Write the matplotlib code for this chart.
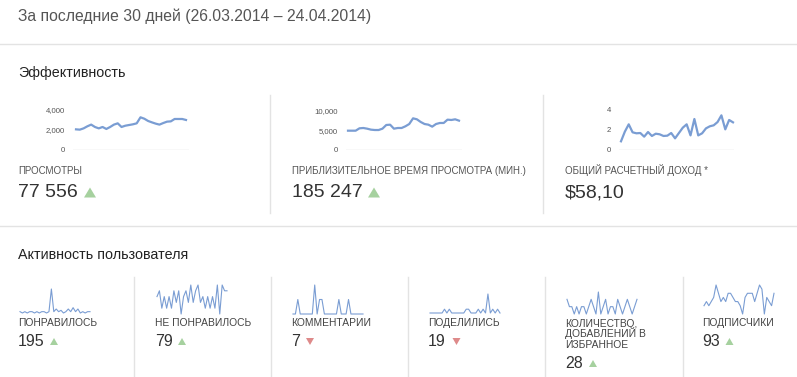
import matplotlib
matplotlib.use("Agg")
import matplotlib.pyplot as plt
from matplotlib.patches import Polygon

W, H = 797, 377
plt.rcParams['font.family'] = ['Liberation Sans', 'DejaVu Sans']

# --- data (30 days) ---
views = [2040, 2010, 2140, 2350, 2520, 2280, 2140, 2280, 2080, 2280,
         2520, 2650, 2280, 2410, 2480, 2550, 2650, 3260, 3120, 2890,
         2750, 2620, 2520, 2680, 2820, 2850, 3090, 3090, 3090, 2990]
watch_time = [4890, 4890, 4890, 5490, 5570, 5400, 5150, 5060, 5060, 5400,
              6330, 6410, 5400, 5570, 5570, 6000, 6580, 8020, 7770, 7090,
              6580, 6410, 5910, 6580, 6840, 6840, 7680, 7600, 7770, 7430]
revenue = [0.83, 1.81, 2.55, 1.74, 1.64, 1.67, 1.30, 1.77, 1.37, 1.60,
           1.54, 1.37, 1.40, 1.67, 1.13, 1.67, 2.21, 2.55, 1.43, 3.09,
           1.43, 1.64, 2.14, 2.35, 2.45, 2.78, 3.46, 2.04, 2.99, 2.75]
likes = [5, 4, 5, 4, 5, 5, 4, 5, 4, 5, 5, 4, 5, 22, 5, 7, 5, 6, 4, 5,
         7, 5, 8, 5, 7, 4, 5, 4, 5, 5]
dislikes = [3, 4, 1, 3, 1, 3, 1, 4, 2, 4, 0, 3, 4, 2, 5, 2, 4, 5, 2, 3,
            1, 3, 1, 3, 1, 5, 0, 5, 4, 4]
comments = [0, 0, 1, 0, 0, 0, 0, 0, 0, 2, 0, 1, 1, 0, 0, 0, 0, 0, 0, 1,
            0, 0, 0, 1, 0, 0, 0, 0, 0, 0]
shares = [0, 0, 0, 0, 0, 0, 1, 0, 1, 0, 0, 0, 0, 0, 0, 1, 1, 0, 0, 0,
          1, 0, 1, 0, 5, 0, 1, 0, 1, 0]
favorites = [2, 1, 1, 0, 1, 0, 1, 1, 0, 1, 2, 1, 0, 3, 0, 1, 2, 0, 1, 1,
             0, 2, 1, 0, 1, 2, 1, 0, 1, 2]
subscribers = [2, 3, 2, 3, 4, 7, 5, 3, 4, 3, 5, 5, 4, 3, 3, 2, 0, 4, 5, 5,
               5, 3, 5, 7, 6, 0, 4, 3, 2, 5]

top_labels = ["ПРОСМОТРЫ", "ПРИБЛИЗИТЕЛЬНОЕ ВРЕМЯ ПРОСМОТРА (МИН.)", "ОБЩИЙ РАСЧЕТНЫЙ ДОХОД *"]
top_totals = ["77 556", "185 247", "$58,10"]
top_ticks = [["0", "2,000", "4,000"], ["0", "5,000", "10,000"], ["0", "2", "4"]]
bottom_labels = [["ПОНРАВИЛОСЬ"], ["НЕ ПОНРАВИЛОСЬ"], ["КОММЕНТАРИИ"], ["ПОДЕЛИЛИСЬ"],
                 ["КОЛИЧЕСТВО,", "ДОБАВЛЕНИЙ В", "ИЗБРАННОЕ"], ["ПОДПИСЧИКИ"]]
bottom_totals = ["195", "79", "7", "19", "28", "93"]
bottom_up = [True, True, False, False, True, True]

blue = '#7a9dd3'
green = '#a6d19f'
red = '#de8a8a'
sep = '#e3e3e3'

fig = plt.figure(figsize=(W / 100, H / 100), dpi=100)
bg = fig.add_axes([0, 0, 1, 1])
bg.set_xlim(0, W)
bg.set_ylim(H, 0)
bg.axis('off')


def box(x0, y0, x1, y1):
    return [x0 / W, 1 - y1 / H, (x1 - x0) / W, (y1 - y0) / H]


def tri(cx, cy, w, h, up, color):
    if up:
        pts = [(cx - w / 2, cy + h / 2), (cx + w / 2, cy + h / 2), (cx, cy - h / 2)]
    else:
        pts = [(cx - w / 2, cy - h / 2), (cx + w / 2, cy - h / 2), (cx, cy + h / 2)]
    bg.add_patch(Polygon(pts, closed=True, color=color, lw=0))


# header and separators
bg.text(18, 21, "За последние 30 дней (26.03.2014 – 24.04.2014)", fontsize=11.3,
        color='#555555', va='baseline')
bg.plot([0, W], [43.5, 43.5], color=sep, lw=1)
bg.text(18, 77.5, "Эффективность", fontsize=10.3, color='#222222', va='baseline')
bg.plot([0, W], [226, 226], color=sep, lw=1)
bg.text(18, 259, "Активность пользователя", fontsize=10.3, color='#222222', va='baseline')
for x in [270.5, 543]:
    bg.plot([x, x], [95, 213], color=sep, lw=1)
for x in [134, 271, 408, 545, 683]:
    bg.plot([x, x], [277, 377], color=sep, lw=1)

# top charts
top_series = [views, watch_time, revenue]
top_max = [4000, 10000, 4]
top_box = [(73, 110, 189, 149.5), (346, 110.5, 462, 150), (619, 110, 734, 149.5)]
top_data_x = [(76, 186), (348, 459), (621, 733)]
top_text_x = [18, 292, 565]
top_tri_x = [90, 374, None]

for vals, ymax, bx, dx, ticks, tx, trx, lab, tot in zip(top_series, top_max, top_box, top_data_x,
                                                         top_ticks, top_text_x, top_tri_x,
                                                         top_labels, top_totals):
    ax = fig.add_axes(box(*bx))
    n = len(vals)
    step = (dx[1] - dx[0]) / (n - 1)
    ax.plot(range(n), vals, color=blue, lw=1.6, clip_on=False, solid_joinstyle='round')
    ax.set_xlim(-(dx[0] - bx[0]) / step, n - 1 + (bx[2] - dx[1]) / step)
    ax.set_ylim(0, ymax)
    ax.set_yticks([0, ymax / 2, ymax])
    ax.set_yticklabels(ticks)
    ax.set_xticks([])
    ax.tick_params(axis='y', length=0, pad=5.8, labelsize=5.6, labelcolor='#555555')
    for s in ax.spines.values():
        s.set_visible(False)
    ax.axhline(0, color='#dddddd', lw=1, zorder=0)
    ax.patch.set_alpha(0)
    bg.text(tx, 174, lab, fontsize=7, color='#555555', va='baseline')
    bg.text(tx, 197, tot, fontsize=14, color='#333333', va='baseline')
    if trx is not None:
        tri(trx, 192.5, 12, 10, True, green)

# bottom sparklines
bottom_series = [likes, dislikes, comments, shares, favorites, subscribers]
bottom_x = [20, 157, 293, 430, 567, 704]
bottom_y = [(289, 313), (285, 314), (285, 314), (294, 313), (292, 314), (285, 314)]
bottom_tri_x = [54, 182, 310, 456.5, 593, 729.5]

for vals, x0, (yt, yb), lab, tot, up, trx in zip(bottom_series, bottom_x, bottom_y, bottom_labels,
                                                 bottom_totals, bottom_up, bottom_tri_x):
    ax = fig.add_axes(box(x0, yt, x0 + 70, yb))
    ax.plot(range(len(vals)), vals, color=blue, lw=0.8, clip_on=False)
    ax.set_xlim(0, len(vals) - 1)
    ax.set_ylim(min(vals), max(vals))
    ax.axis('off')
    for k, line in enumerate(lab):
        bg.text(x0 - 2, 326.5 + k * 10.7, line, fontsize=7.4, color='#444444', va='baseline')
    ty = 346 if len(lab) == 1 else 368
    bg.text(x0 - 2, ty, tot, fontsize=11.5, color='#333333', va='baseline')
    tri(trx, ty - 4.5, 8, 7, up, green if up else red)

fig.savefig('out.png', dpi=100)
